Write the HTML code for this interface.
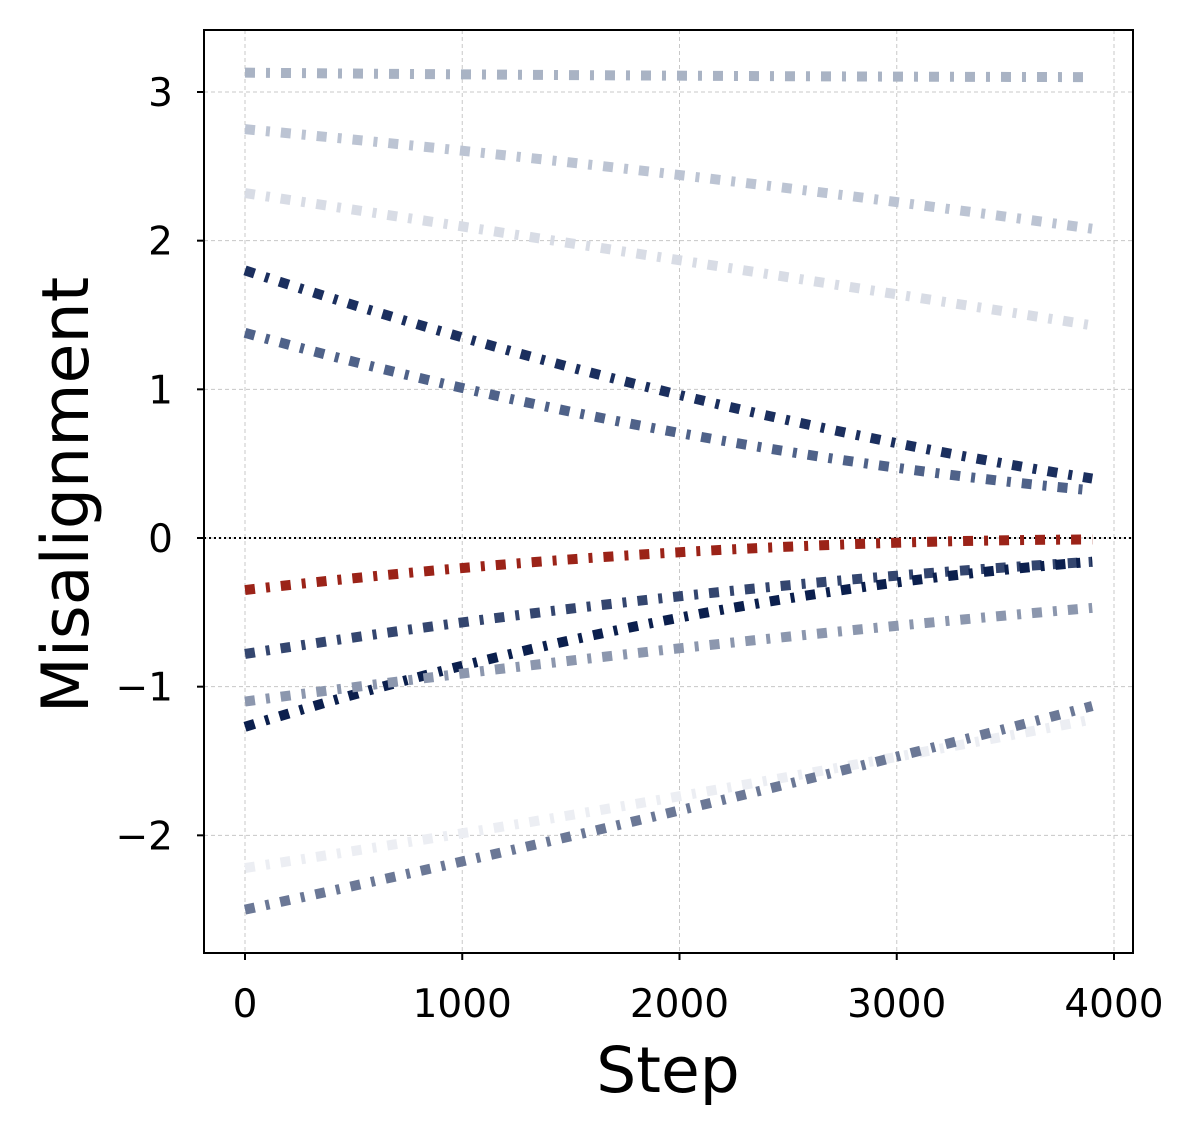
<!DOCTYPE html>
<html><head><meta charset="utf-8"><style>body{margin:0;background:#fff}svg{display:block}</style></head>
<body>
<svg id="s" width="1195" height="1137" xmlns="http://www.w3.org/2000/svg" font-family="DejaVu Sans, Liberation Sans, sans-serif">
<rect width="1195" height="1137" fill="#fff"/>
<g id="grid" stroke="#c8c8c8" stroke-width="1" stroke-dasharray="4 3"></g>
<line x1="204" y1="538" x2="1133" y2="538" stroke="#000" stroke-width="2" stroke-dasharray="2 3"/>
<g id="series" fill="none"></g>
<rect x="204" y="30" width="929" height="923" fill="none" stroke="#000" stroke-width="2"/>
<g id="ticks" font-size="39" fill="#000"></g>
<text x="668" y="1092" font-size="63" text-anchor="middle">Step</text>
<text transform="translate(88,495) rotate(-90)" font-size="65" text-anchor="middle">Misalignment</text>
</svg>
<script>
const NS="http://www.w3.org/2000/svg";
const X=v=>245+v*0.21725, Y=v=>538-v*148.67;
function el(p,t,a,txt){const e=document.createElementNS(NS,t);for(const k in a)e.setAttribute(k,a[k]);if(txt!==undefined)e.textContent=txt;document.getElementById(p).appendChild(e);}
[0,1000,2000,3000,4000].forEach(v=>{el('grid','line',{x1:X(v),x2:X(v),y1:30,y2:953});
 el('ticks','line',{x1:X(v),x2:X(v),y1:953,y2:960,stroke:'#000','stroke-width':2});
 el('ticks','text',{x:X(v),y:1017,'text-anchor':'middle'},String(v));});
[-2,-1,0,1,2,3].forEach(v=>{el('grid','line',{x1:204,x2:1133,y1:Y(v),y2:Y(v)});
 el('ticks','line',{x1:197,x2:204,y1:Y(v),y2:Y(v),stroke:'#000','stroke-width':2});
 el('ticks','text',{x:173,y:Y(v)+14,'text-anchor':'end'},(v<0?'\u2212':'')+Math.abs(v));});
const S=[[3.13,3.11,3.10,'#a9b3c4'],[2.75,2.45,2.08,'#bcc4d3'],[2.32,1.88,1.43,'#d8dce5'],
[1.80,0.98,0.40,'#1b2f5e'],[1.38,0.72,0.32,'#4f6289'],[-0.35,-0.10,-0.01,'#9b2318'],
[-0.78,-0.40,-0.16,'#34466f'],[-1.27,-0.55,-0.16,'#0b1f4d'],[-1.10,-0.75,-0.47,'#8c97ae'],
[-2.22,-1.75,-1.22,'#eceef3'],[-2.50,-1.85,-1.13,'#6b7896']];
S.forEach(s=>{const x0=X(0),x1=X(3900),xm=X(1950);const y0=Y(s[0]),ym=Y(s[1]),y1=Y(s[2]);
 const cx=2*xm-(x0+x1)/2,cy=2*ym-(y0+y1)/2;
 el('series','path',{d:`M${x0},${y0}Q${cx},${cy} ${x1},${y1}`,stroke:s[3],'stroke-width':10,'stroke-dasharray':'10 11 4 11'});});
</script>
</body></html>
